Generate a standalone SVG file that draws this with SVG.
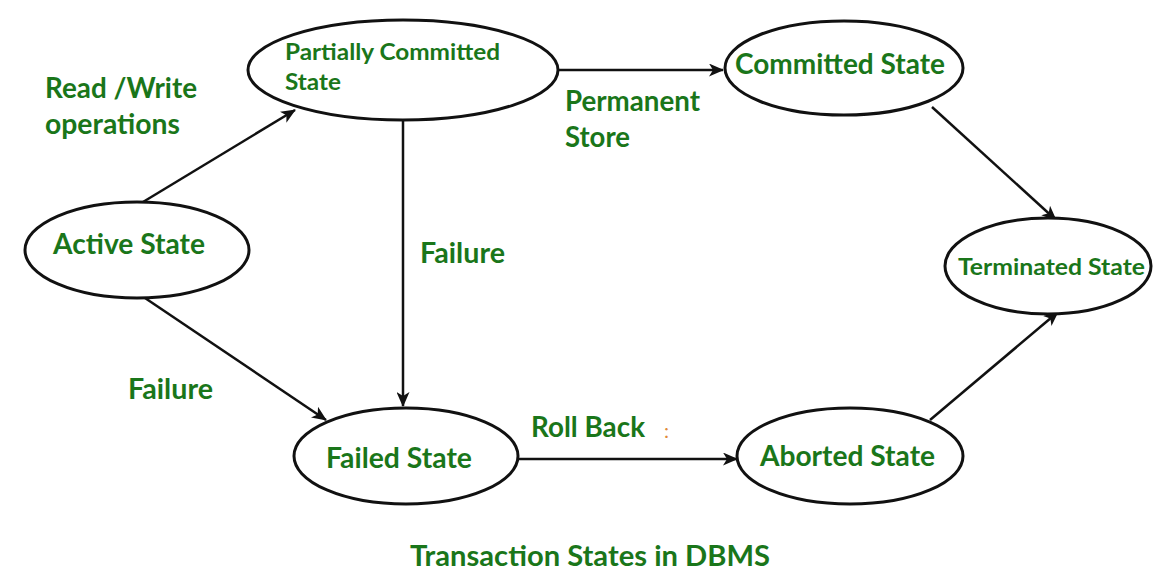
<svg xmlns="http://www.w3.org/2000/svg" width="1153" height="576" viewBox="0 0 1153 576">
<style>
.n{fill:#fff;stroke:#111;stroke-width:3}
.t{font-family:Lato,"Open Sans",sans-serif;font-weight:bold;fill:#1a761a}
.e{stroke:#111;stroke-width:2.5;fill:none;marker-end:url(#a)}
</style>
<defs>
<marker id="a" viewBox="0 0 15 13" refX="14" refY="6.5" markerWidth="15" markerHeight="13" markerUnits="userSpaceOnUse" orient="auto">
<path d="M0,0 L15,6.5 L0,13 L4,6.5 Z" fill="#111"/>
</marker>
</defs>
<rect width="1153" height="576" fill="#fff"/>
<g id="edges">
<line class="e" x1="143" y1="202" x2="295" y2="110"/>
<line class="e" x1="558" y1="70" x2="723" y2="70"/>
<line class="e" x1="403" y1="120" x2="403" y2="406"/>
<line class="e" x1="145" y1="298" x2="326" y2="420"/>
<line class="e" x1="932" y1="107" x2="1056" y2="220"/>
<line class="e" x1="518" y1="459" x2="737" y2="459"/>
<line class="e" x1="930" y1="420" x2="1058" y2="312"/>
</g>
<g id="labels">
<text class="t" x="45" y="98" font-size="28" textLength="152" lengthAdjust="spacingAndGlyphs">Read /Write</text>
<text class="t" x="45" y="134" font-size="28" textLength="135" lengthAdjust="spacingAndGlyphs">operations</text>
<text class="t" x="565" y="111" font-size="28" textLength="135" lengthAdjust="spacingAndGlyphs">Permanent</text>
<text class="t" x="565" y="147" font-size="28" textLength="65" lengthAdjust="spacingAndGlyphs">Store</text>
<text class="t" x="420" y="263" font-size="28" textLength="85" lengthAdjust="spacingAndGlyphs">Failure</text>
<text class="t" x="128" y="399" font-size="28" textLength="85" lengthAdjust="spacingAndGlyphs">Failure</text>
<text class="t" x="531" y="437" font-size="28" textLength="114" lengthAdjust="spacingAndGlyphs">Roll Back</text>
<text x="664" y="438" font-size="20" font-family="Lato,sans-serif" fill="#e08a3a">:</text>
<text class="t" x="410" y="566" font-size="28" textLength="360" lengthAdjust="spacingAndGlyphs">Transaction States in DBMS</text>
</g>
<g id="partial">
<ellipse class="n" cx="403" cy="70" rx="155" ry="50"/>
<text class="t" x="285" y="60" font-size="23" textLength="215" lengthAdjust="spacingAndGlyphs">Partially Committed</text>
<text class="t" x="285" y="90" font-size="23" textLength="56" lengthAdjust="spacingAndGlyphs">State</text>
</g>
<g id="committed">
<ellipse class="n" cx="844" cy="68" rx="119" ry="47"/>
<text class="t" x="735" y="74" font-size="28" textLength="210" lengthAdjust="spacingAndGlyphs">Committed State</text>
</g>
<g id="active">
<ellipse class="n" cx="137" cy="250" rx="112" ry="48"/>
<text class="t" x="53" y="254" font-size="28" textLength="152" lengthAdjust="spacingAndGlyphs">Active State</text>
</g>
<g id="terminated">
<ellipse class="n" cx="1048" cy="266" rx="103" ry="48"/>
<text class="t" x="958" y="275" font-size="23" textLength="187" lengthAdjust="spacingAndGlyphs">Terminated State</text>
</g>
<g id="failed">
<ellipse class="n" cx="406" cy="456" rx="112" ry="48"/>
<text class="t" x="326" y="468" font-size="28" textLength="146" lengthAdjust="spacingAndGlyphs">Failed State</text>
</g>
<g id="aborted">
<ellipse class="n" cx="850" cy="456" rx="113" ry="48"/>
<text class="t" x="760" y="466" font-size="28" textLength="175" lengthAdjust="spacingAndGlyphs">Aborted State</text>
</g>
</svg>
